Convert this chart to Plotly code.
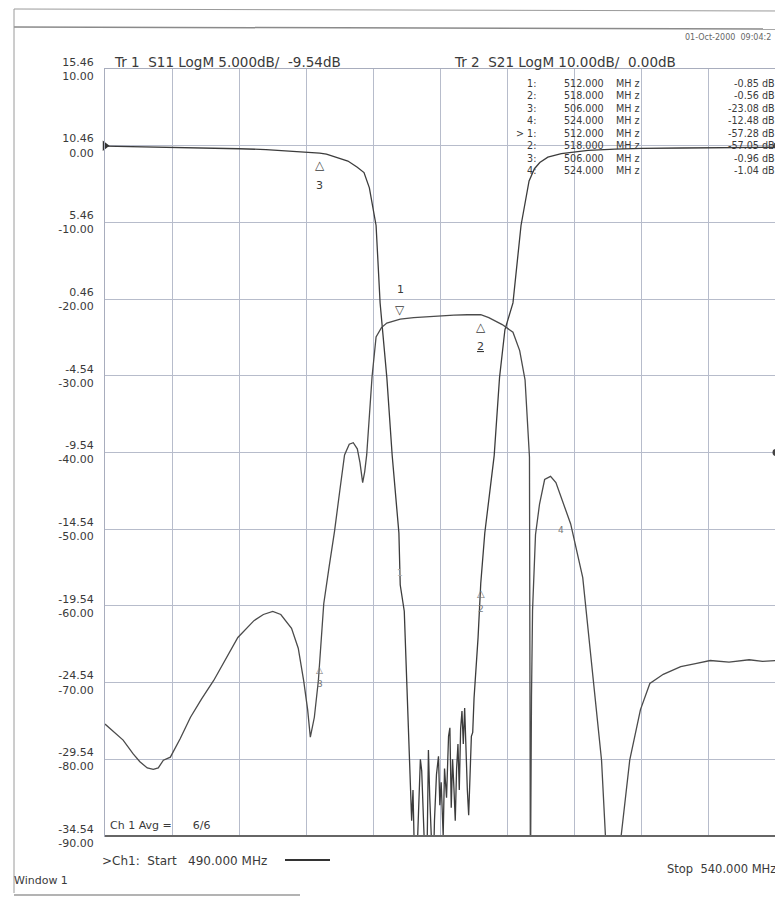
import plotly.graph_objects as go

# ---------------- data ----------------
# Tr 2 : S21, LogM 10 dB/div, ref 0 dB  (primary y axis, -90..10 dB)
s21_freq = [490.0, 492.0, 495.0, 498.0, 500.0, 502.0, 504.0, 505.5, 506.0, 506.5, 507.2, 508.1,
            508.8, 509.3, 509.7, 510.0, 510.2, 510.5, 511.0, 511.4, 511.9, 512.0, 512.3, 512.5,
            512.7, 512.85, 512.95, 513.05, 513.2, 513.35, 513.5, 513.6, 513.75, 513.9, 514.0,
            514.1, 514.2, 514.3, 514.45, 514.55, 514.7, 514.85, 514.95, 515.05, 515.2, 515.3,
            515.45, 515.6, 515.7, 515.8, 515.9, 516.0, 516.1, 516.2, 516.3, 516.4, 516.5, 516.6,
            516.7, 516.8, 516.9, 517.0, 517.1, 517.2, 517.3, 517.4, 517.5, 517.8, 518.0, 518.3,
            519.0, 519.4, 519.8, 520.4, 521.0, 521.6, 522.0, 522.4, 523.0, 524.0, 525.0, 526.0,
            528.0, 530.0, 533.0, 536.0, 540.0]
s21_db = [-0.05, -0.1, -0.2, -0.3, -0.4, -0.5, -0.7, -0.9, -0.96, -1.1, -1.5, -2.0,
          -2.8, -3.5, -5.5, -8.7, -10.4, -20.5, -30.2, -40.4, -50.5, -57.28, -60.7, -70.6,
          -81.5, -88.0, -84.0, -92.0, -95.0, -86.0, -80.0, -81.5, -90.0, -96.0, -92.0,
          -78.8, -85.0, -91.0, -96.0, -88.0, -82.0, -79.6, -86.0, -83.0, -90.0, -81.2,
          -85.0, -77.0, -75.9, -86.3, -80.0, -83.7, -88.0, -81.2, -78.0, -84.0, -76.0, -73.7,
          -78.0, -73.3, -80.0, -84.0, -87.3, -81.0, -77.0, -76.5, -72.0, -64.1, -57.05, -50.5,
          -40.4, -30.2, -24.0, -20.5, -10.4, -4.6, -3.0, -2.2, -1.5, -1.04, -0.8, -0.6,
          -0.45, -0.35, -0.3, -0.25, -0.2]

# Tr 1 : S11, LogM 5 dB/div, ref -9.54 dB  (secondary y axis, -34.54..15.46 dB)
s11_freq = [490.0, 490.6, 491.35, 492.1, 492.6, 493.15, 493.6, 493.97, 494.35, 494.87, 495.6,
            496.37, 497.2, 498.1, 499.0, 499.9, 501.1, 501.8, 502.5, 503.1, 503.9, 504.4, 504.8,
            505.1, 505.3, 505.6, 505.9, 506.3, 506.7, 507.1, 507.5, 507.85, 508.2, 508.5, 508.8,
            509.0, 509.2, 509.35, 509.5, 509.7, 509.9, 510.2, 510.6, 511.0, 511.4, 512.0, 513.0,
            514.0, 515.0, 516.0, 517.0, 518.0, 518.6, 519.2, 519.6, 520.0, 520.4, 520.9, 521.3,
            521.63, 521.7, 521.78, 521.86, 522.08, 522.38, 522.76, 523.2, 523.6, 524.0, 524.7,
            525.6, 526.4, 527.0, 527.3, 527.85, 528.4, 529.1, 529.9, 530.6, 531.6, 532.9, 534.0,
            535.1, 536.5, 538.0, 539.0, 540.0]
s11_db = [-27.24, -27.7, -28.29, -29.19, -29.7, -30.1, -30.2, -30.1, -29.6, -29.4, -28.2,
          -26.8, -25.6, -24.4, -23.0, -21.6, -20.5, -20.1, -19.9, -20.1, -21.0, -22.3, -24.4,
          -26.3, -28.1, -26.8, -24.4, -19.4, -17.0, -14.7, -12.0, -9.7, -9.0, -8.9, -9.3,
          -10.2, -11.5, -10.8, -9.7, -7.0, -4.6, -2.0, -1.4, -1.1, -1.0, -0.85, -0.75,
          -0.68, -0.62, -0.58, -0.56, -0.56, -0.75, -1.0, -1.2, -1.45, -1.7, -2.9, -4.8,
          -9.85, -38.0, -25.5, -19.8, -14.9, -12.9, -11.3, -11.1, -11.5, -12.48, -14.2,
          -17.7, -24.6, -29.6, -34.7, -40.0, -35.0, -29.6, -26.3, -24.6, -24.0, -23.5, -23.3,
          -23.1, -23.2, -23.05, -23.15, -23.1]

# axis tick labels (S11 scale / S21 scale)
s21_ticks = [10, 0, -10, -20, -30, -40, -50, -60, -70, -80, -90]
s11_ticks = ["15.46", "10.46", "5.46", "0.46", "-4.54", "-9.54", "-14.54", "-19.54",
             "-24.54", "-29.54", "-34.54"]
s21_tick_text = ["10.00", "0.00", "-10.00", "-20.00", "-30.00", "-40.00", "-50.00",
                 "-60.00", "-70.00", "-80.00", "-90.00"]

# marker table
mk_num = ["1:", "2:", "3:", "4:", "&gt; 1:", "2:", "3:", "4:"]
mk_freq = ["512.000", "518.000", "506.000", "524.000", "512.000", "518.000", "506.000", "524.000"]
mk_val = ["-0.85 dB", "-0.56 dB", "-23.08 dB", "-12.48 dB",
          "-57.28 dB", "-57.05 dB", "-0.96 dB", "-1.04 dB"]

# markers on traces: (freq, value)
s11_markers = {"1": (512.0, -0.85), "2": (518.0, -0.56), "3": (506.0, -23.08), "4": (524.0, -12.48)}
s21_markers = {"1": (512.0, -57.28), "2": (518.0, -57.05), "3": (506.0, -0.96), "4": (524.0, -1.04)}

# ---------------- layout helpers ----------------
OFF = 8                     # page body margin
W, H = 783 - OFF, 900 - OFF
L, R, T, B = 105 - OFF, 776 - OFF, 69 - OFF, 836 - OFF
FONT = "DejaVu Sans, Verdana, sans-serif"
TXT = "#3a3a3a"
TRACE = "#4b4b4b"


def px(x):
    """page x pixel -> paper coordinate"""
    return (x - OFF - L) / (R - L)


def py(y):
    """page y pixel -> paper coordinate"""
    return (B - (y - OFF)) / (B - T)


ann = []


def label(x, y, text, size=11, anchor="left", color=TXT, yanchor="middle"):
    ann.append(dict(x=px(x), y=py(y), xref="paper", yref="paper", xanchor=anchor,
                    yanchor=yanchor, align=anchor, text=text, showarrow=False,
                    font=dict(family=FONT, size=size, color=color)))


def mark(key, pts, yref, text, dy, size=10, color=TXT):
    f, v = pts[key]
    ann.append(dict(x=f, y=v, xref="x", yref=yref, xanchor="center", yanchor="middle",
                    yshift=-dy, text=text, showarrow=False,
                    font=dict(family=FONT, size=size, color=color)))


fig = go.Figure()

fig.add_trace(go.Scatter(x=s11_freq, y=s11_db, yaxis="y2", mode="lines",
                         line=dict(color=TRACE, width=1.3), name="S11", hoverinfo="skip"))
fig.add_trace(go.Scatter(x=s21_freq, y=s21_db, mode="lines",
                         line=dict(color="#3c3c3c", width=1.3), name="S21", hoverinfo="skip"))

# reference level arrows
fig.add_trace(go.Scatter(x=[490], y=[0], mode="markers", cliponaxis=False,
                         marker=dict(symbol="triangle-right", size=9, color="#333"), hoverinfo="skip"))
fig.add_trace(go.Scatter(x=[540], y=[-9.54], yaxis="y2", mode="markers", cliponaxis=False,
                         marker=dict(symbol="circle", size=7, color="#444"), hoverinfo="skip"))
fig.add_trace(go.Scatter(x=[540], y=[0], mode="markers", cliponaxis=False,
                         marker=dict(symbol="circle", size=6, color="#444"), hoverinfo="skip"))

# header texts
label(112, 62, "Tr 1  S11 LogM 5.000dB/  -9.54dB", size=13.5)
label(452, 62, "Tr 2  S21 LogM 10.00dB/  0.00dB", size=13.5)
label(683, 38, "01-Oct-2000  09:04:2", size=8, color="#666")

# marker table: one text block per column (lines 12.5 px apart)
TBL = 9.6
label(538, 76, "<br>".join(mk_num), size=TBL, anchor="right", yanchor="top")
label(606, 76, "<br>".join(mk_freq), size=TBL, anchor="right", yanchor="top")
label(614, 76, "<br>".join(["MH z"] * 8), size=TBL, anchor="left", yanchor="top")
label(777, 76, "<br>".join(mk_val), size=TBL, anchor="right", yanchor="top")

# bottom texts
label(108, 825, "Ch 1 Avg =      6/6", size=11)
label(100, 861, "&gt;Ch1:  Start   490.000 MHz", size=12)
label(665, 869, "Stop  540.000 MHz", size=11.5)
label(12, 881, "Window 1", size=11)

# trace markers
mark("3", s21_markers, "y", "△", 12, size=12)
mark("3", s21_markers, "y", "3", 32, size=11)
mark("2", s21_markers, "y", "△", 10, size=10, color="#777")
mark("2", s21_markers, "y", "2", 26, size=9, color="#777")
mark("1", s21_markers, "y", "1", -12, size=9, color="#aaa")
mark("1", s11_markers, "y2", "▽", -9, size=12)
mark("1", s11_markers, "y2", "1", -30, size=11)
mark("2", s11_markers, "y2", "△", 12, size=12)
mark("2", s11_markers, "y2", "<u>2</u>", 32, size=11)
mark("3", s11_markers, "y2", "△", 10, size=9, color="#777")
mark("3", s11_markers, "y2", "3", 24, size=9, color="#777")
mark("4", s11_markers, "y2", "4", 32, size=9, color="#777")

shapes = [
    # scan frame lines
    dict(type="line", xref="paper", yref="paper", x0=px(14), x1=px(783), y0=py(9), y1=py(11),
         line=dict(color="#9a9a9a", width=1)),
    dict(type="line", xref="paper", yref="paper", x0=px(14), x1=px(783), y0=py(27), y1=py(29),
         line=dict(color="#8a8a8a", width=1.5)),
    dict(type="line", xref="paper", yref="paper", x0=px(14), x1=px(14), y0=py(9), y1=py(893),
         line=dict(color="#9a9a9a", width=1)),
    dict(type="line", xref="paper", yref="paper", x0=px(14), x1=px(300), y0=py(895), y1=py(895),
         line=dict(color="#9a9a9a", width=1.5)),
    # dash after start frequency
    dict(type="line", xref="paper", yref="paper", x0=px(285), x1=px(330), y0=py(860), y1=py(860),
         line=dict(color="#333", width=2)),
    # darker bottom frame
    dict(type="line", xref="paper", yref="paper", x0=0, x1=1, y0=0, y1=0,
         line=dict(color="#666", width=2)),
]

fig.update_layout(
    width=W, height=H,
    margin=dict(l=L, r=W - R, t=T, b=H - B),
    paper_bgcolor="white", plot_bgcolor="white",
    showlegend=False,
    font=dict(family=FONT, size=10, color=TXT),
    xaxis=dict(range=[490, 540], dtick=5, tick0=490, showticklabels=False, ticks="",
               showgrid=True, gridcolor="#b7bccb", gridwidth=1, zeroline=False,
               showline=True, mirror=True, linecolor="#a8adbd", linewidth=1),
    yaxis=dict(range=[-90, 10], tickvals=s21_ticks,
               ticktext=[a + "<br>" + b for a, b in zip(s11_ticks, s21_tick_text)],
               ticks="", ticklabelstandoff=8, showgrid=True, gridcolor="#b7bccb", gridwidth=1,
               zeroline=False, showline=True, mirror=True, linecolor="#a8adbd", linewidth=1,
               tickfont=dict(family=FONT, size=11, color=TXT)),
    yaxis2=dict(range=[-34.54, 15.46], overlaying="y", side="right", visible=False,
                showgrid=False, zeroline=False),
    annotations=ann,
    shapes=shapes,
)

fig.write_html("out.html")
